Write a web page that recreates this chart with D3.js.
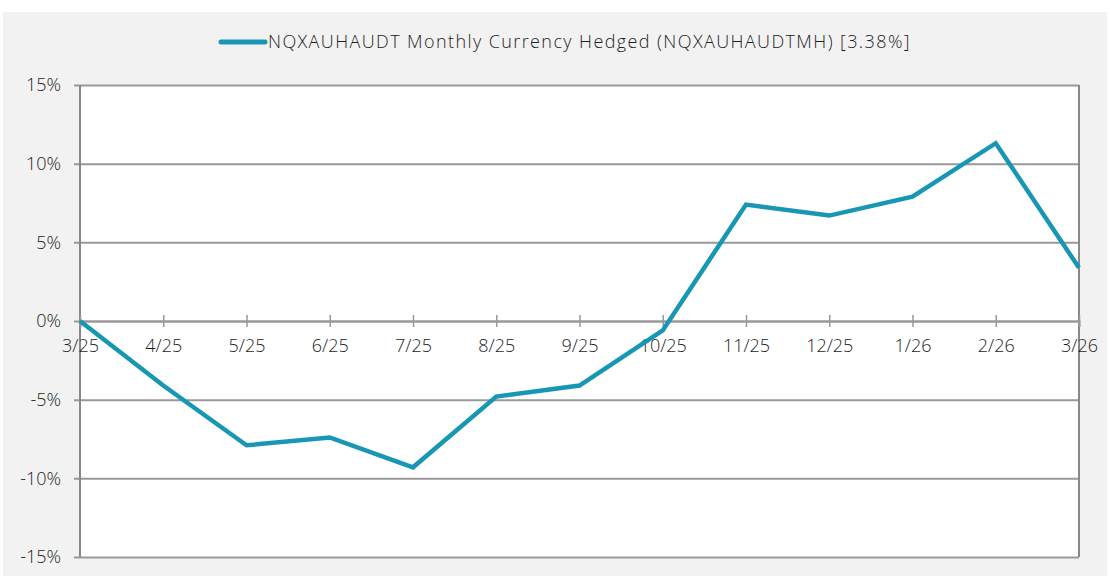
<!DOCTYPE html>
<html>
<head>
<meta charset="utf-8">
<script src="https://cdn.jsdelivr.net/npm/d3@7"></script>
<style>
    body { margin: 0; background: #ffffff; }
    svg text { font-family: 'Open Sans', sans-serif; font-weight: 300; fill: #1e1e1e; }
</style>
</head>
<body>
<div id="chart"></div>
<script>
let months = ['3/25', '4/25', '5/25', '6/25', '7/25', '8/25', '9/25', '10/25', '11/25', '12/25', '1/26', '2/26', '3/26'];
let values = [0, -4.1, -7.9, -7.4, -9.3, -4.8, -4.1, -0.6, 7.4, 6.7, 7.9, 11.3, 3.38];
let yTicks = [-15, -10, -5, 0, 5, 10, 15];
let seriesName = 'NQXAUHAUDT Monthly Currency Hedged (NQXAUHAUDTMH) [3.38%]';

let width = 1110;
let height = 576;
let margin = { top: 85, right: 31, bottom: 19, left: 80 };
let lineColor = '#1797b4';
let fontSize = 18;

const svg = d3.select('#chart')
    .append('svg')
    .attr('width', width)
    .attr('height', height);

// gray panel
svg.append('rect')
    .attr('x', 3)
    .attr('y', 12)
    .attr('width', width - 6)
    .attr('height', height - 12)
    .attr('fill', '#f2f2f2');

let x = d3.scalePoint()
    .domain(months)
    .range([margin.left, width - margin.right]);

let y = d3.scaleLinear()
    .domain([-15, 15])
    .range([height - margin.bottom, margin.top]);

// plot area
svg.append('rect')
    .attr('x', margin.left)
    .attr('y', margin.top)
    .attr('width', width - margin.right - margin.left)
    .attr('height', height - margin.bottom - margin.top)
    .attr('fill', '#ffffff');

// gridlines + y labels
let yAxis = (g) => g
    .attr('transform', `translate(${margin.left},0)`)
    .call(d3.axisLeft(y)
        .tickValues(yTicks)
        .tickSize(-(width - margin.right - margin.left))
        .tickSizeOuter(0)
        .tickPadding(19)
        .tickFormat(d => d + '%'))
    .call(g => g.select('.domain').remove())
    .call(g => g.selectAll('.tick line')
        .attr('x1', -6)
        .attr('stroke', '#999')
        .attr('stroke-width', 2))
    .call(g => g.selectAll('.tick text')
        .attr('font-size', fontSize)
        .style('fill', '#1e1e1e'));

svg.append('g').call(yAxis);

// side borders
svg.append('line')
    .attr('x1', margin.left).attr('x2', margin.left)
    .attr('y1', margin.top).attr('y2', height - margin.bottom)
    .attr('stroke', '#888').attr('stroke-width', 2);
svg.append('line')
    .attr('x1', width - margin.right).attr('x2', width - margin.right)
    .attr('y1', margin.top).attr('y2', height - margin.bottom)
    .attr('stroke', '#888').attr('stroke-width', 2);

// x axis along 0%
let xAxis = (g) => g
    .attr('transform', `translate(0,${y(0)})`)
    .call(d3.axisBottom(x)
        .tickSizeOuter(0)
        .tickSize(6)
        .tickPadding(12))
    .call(g => g.select('.domain').attr('stroke', '#999').attr('stroke-width', 2))
    .call(g => g.selectAll('.tick line')
        .attr('y1', -6)
        .attr('stroke', '#999')
        .attr('stroke-width', 1.5))
    .call(g => g.selectAll('.tick text')
        .attr('font-size', fontSize)
        .style('fill', '#1e1e1e'));

svg.append('g').call(xAxis);

// series line
let line = d3.line()
    .x((d, i) => x(months[i]))
    .y(d => y(d));

svg.append('path')
    .datum(values)
    .attr('fill', 'none')
    .attr('stroke', lineColor)
    .attr('stroke-width', 4.5)
    .attr('stroke-linejoin', 'miter')
    .attr('d', line);

// legend
let legend = svg.append('g')
    .attr('transform', 'translate(221,42)');
legend.append('line')
    .attr('x1', 0).attr('x2', 44)
    .attr('stroke', lineColor)
    .attr('stroke-width', 5)
    .attr('stroke-linecap', 'round');
legend.append('text')
    .attr('x', 47)
    .attr('dy', '0.35em')
    .attr('font-size', fontSize)
    .attr('letter-spacing', 1.4)
    .text(seriesName);
</script>
</body>
</html>
